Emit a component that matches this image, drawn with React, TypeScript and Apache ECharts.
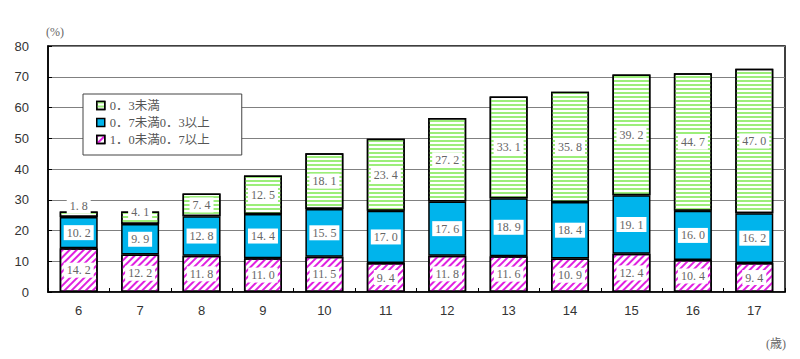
import React, { useEffect, useRef } from "react";
import * as echarts from "echarts";

const categories = ["6", "7", "8", "9", "10", "11", "12", "13", "14", "15", "16", "17"];
const under03 = [1.8, 4.1, 7.4, 12.5, 18.1, 23.4, 27.2, 33.1, 35.8, 39.2, 44.7, 47.0];
const under07 = [10.2, 9.9, 12.8, 14.4, 15.5, 17.0, 17.6, 18.9, 18.4, 19.1, 16.0, 16.2];
const under10 = [14.2, 12.2, 11.8, 11.0, 11.5, 9.4, 11.8, 11.6, 10.9, 12.4, 10.4, 9.4];
const seriesNames = ["0．3未満", "0．7未満0．3以上", "1．0未満0．7以上"];
const yTicks = [0, 10, 20, 30, 40, 50, 60, 70, 80];

const SERIF = "'Liberation Serif', 'DejaVu Serif', 'Noto Sans CJK JP', serif";

const fmt = (p: any) => {
  const s = Number(p.value).toFixed(1).split(".");
  return s[0] + ". " + s[1];
};

const labelStyle = {
  show: true,
  position: "inside",
  formatter: fmt,
  color: "#666",
  fontSize: 12,
  fontFamily: SERIF,
  backgroundColor: "#fff",
  padding: [2, 3, 1, 3],
};

export default function App() {
  const ref = useRef<HTMLDivElement>(null);
  useEffect(() => {
    if (!ref.current) return;
    const chart = echarts.init(ref.current, null, { renderer: "svg" });
    const border = { borderColor: "#000", borderWidth: 1.5 };
    chart.setOption({
      animation: false,
      backgroundColor: "#fff",
      grid: {
        left: 48,
        right: 15,
        top: 46,
        bottom: 67,
        show: true,
        borderColor: "#000",
        borderWidth: 1.5,
        backgroundColor: "transparent",
      },
      legend: {
        orient: "vertical",
        left: 83,
        top: 94,
        data: [seriesNames[0], seriesNames[1], seriesNames[2]],
        backgroundColor: "#fff",
        borderColor: "#444",
        borderWidth: 1,
        padding: [3, 32, 7, 13],
        itemWidth: 8,
        itemHeight: 8,
        itemGap: 0,
        icon: "rect",
        itemStyle: { borderColor: "#000", borderWidth: 1.5 },
        textStyle: {
          color: "#555",
          fontSize: 12.5,
          lineHeight: 17,
          fontFamily: SERIF,
        },
      },
      xAxis: {
        type: "category",
        data: categories,
        axisLine: { lineStyle: { color: "#000", width: 1.5 } },
        axisTick: { show: true, inside: true, length: 4, lineStyle: { color: "#000" } },
        axisLabel: {
          color: "#333",
          fontSize: 13,
          margin: 12,
          fontFamily: "'Liberation Sans', Arial, sans-serif",
        },
      },
      yAxis: {
        type: "value",
        min: yTicks[0],
        max: yTicks[yTicks.length - 1],
        interval: 10,
        axisLine: { show: true, lineStyle: { color: "#000", width: 1.5 } },
        axisTick: { show: true, inside: true, length: 4, lineStyle: { color: "#000" } },
        axisLabel: {
          color: "#333",
          fontSize: 13,
          margin: 19,
          fontFamily: "'Liberation Sans', Arial, sans-serif",
        },
        splitLine: { lineStyle: { color: "#808080", width: 1 } },
      },
      graphic: [
        {
          type: "text",
          left: 46,
          top: 26,
          style: { text: "(%)", fill: "#666", fontSize: 12, fontFamily: SERIF },
        },
        {
          type: "text",
          left: 766,
          top: 338,
          style: { text: "(歳)", fill: "#666", fontSize: 12, fontFamily: SERIF },
        },
      ],
      series: [
        {
          name: seriesNames[2],
          type: "bar",
          stack: "total",
          barWidth: 38,
          data: under10,
          itemStyle: {
            color: "#fff",
            ...border,
            decal: {
              symbol: "rect",
              symbolSize: 1,
              color: "#e020e0",
              dashArrayX: [1, 0],
              dashArrayY: [2, 3],
              rotation: -Math.PI / 4,
            },
          },
          label: labelStyle,
        },
        {
          name: seriesNames[1],
          type: "bar",
          stack: "total",
          barWidth: 38,
          data: under07,
          itemStyle: { color: "#00b4ec", ...border },
          label: labelStyle,
        },
        {
          name: seriesNames[0],
          type: "bar",
          stack: "total",
          barWidth: 38,
          data: under03.map((v, i) =>
            i === 0
              ? { value: v, label: { offset: [0, -8] } }
              : i === 1
              ? { value: v, label: { offset: [0, -6] } }
              : v
          ),
          itemStyle: {
            color: "#fff",
            ...border,
            decal: {
              symbol: "rect",
              symbolSize: 1,
              color: "#9cee7a",
              dashArrayX: [1, 0],
              dashArrayY: [2, 2],
              rotation: 0,
            },
          },
          label: labelStyle,
        },
      ],
    });
    return () => chart.dispose();
  }, []);
  return (
    <div
      ref={ref}
      style={{ position: "fixed", left: 0, top: 0, width: 800, height: 359 }}
    />
  );
}
